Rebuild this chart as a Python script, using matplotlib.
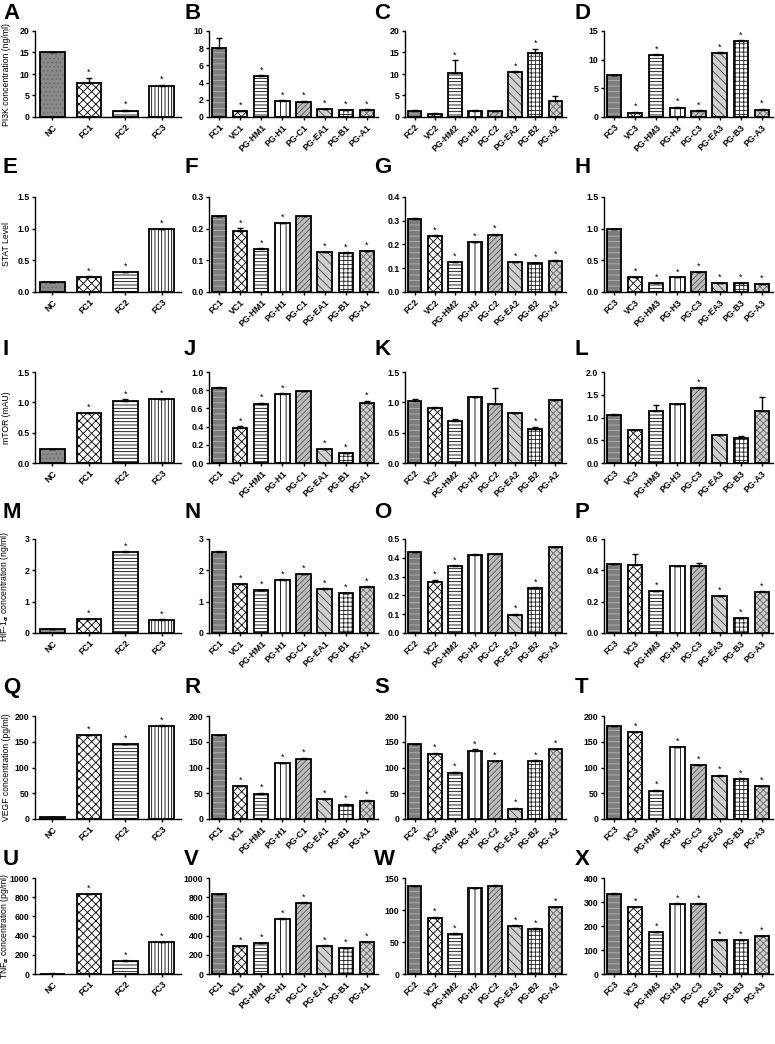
import matplotlib.pyplot as plt

plt.rcParams['font.family'] = ['Liberation Sans', 'DejaVu Sans']
plt.rcParams['font.weight'] = 'bold'
plt.rcParams['hatch.linewidth'] = 0.6

base_labels = ['NC', 'FC1', 'FC2', 'FC3']
grp1_labels = ['FC1', 'VC1', 'PG-HM1', 'PG-H1', 'PG-C1', 'PG-EA1', 'PG-B1', 'PG-A1']
grp2_labels = ['FC2', 'VC2', 'PG-HM2', 'PG-H2', 'PG-C2', 'PG-EA2', 'PG-B2', 'PG-A2']
grp3_labels = ['FC3', 'VC3', 'PG-HM3', 'PG-H3', 'PG-C3', 'PG-EA3', 'PG-B3', 'PG-A3']

# PI3K
pi3k_base = [15.0, 8.0, 1.5, 7.3]
pi3k_base_err = [0.2, 1.1, 0.2, 0.2]
pi3k_base_star = [0, 1, 1, 1]
pi3k_1 = [8.0, 0.7, 4.8, 1.9, 1.8, 0.9, 0.8, 0.85]
pi3k_1_err = [1.2, 0.05, 0.05, 0.05, 0.1, 0.05, 0.05, 0.05]
pi3k_1_star = [0, 1, 1, 1, 1, 1, 1, 1]
pi3k_2 = [1.5, 0.8, 10.2, 1.4, 1.3, 10.5, 14.8, 3.7]
pi3k_2_err = [0.05, 0.1, 3.0, 0.3, 0.1, 0.1, 1.0, 1.2]
pi3k_2_star = [0, 0, 1, 0, 0, 1, 1, 0]
pi3k_3 = [7.3, 0.7, 10.9, 1.6, 1.1, 11.2, 13.2, 1.3]
pi3k_3_err = [0.1, 0.2, 0.05, 0.2, 0.05, 0.1, 0.2, 0.1]
pi3k_3_star = [0, 1, 1, 1, 1, 1, 1, 1]

# STAT
stat_base = [0.15, 0.24, 0.31, 0.99]
stat_base_err = [0.003, 0.005, 0.005, 0.005]
stat_base_star = [0, 1, 1, 1]
stat_1 = [0.240, 0.193, 0.137, 0.217, 0.239, 0.126, 0.124, 0.128]
stat_1_err = [0.001, 0.008, 0.001, 0.001, 0.001, 0.001, 0.001, 0.001]
stat_1_star = [0, 1, 1, 1, 0, 1, 1, 1]
stat_2 = [0.307, 0.236, 0.127, 0.210, 0.242, 0.127, 0.123, 0.132]
stat_2_err = [0.004, 0.002, 0.001, 0.002, 0.002, 0.001, 0.001, 0.002]
stat_2_star = [0, 1, 1, 1, 1, 1, 1, 1]
stat_3 = [0.99, 0.23, 0.14, 0.23, 0.31, 0.14, 0.14, 0.13]
stat_3_err = [0.005, 0.005, 0.003, 0.003, 0.005, 0.003, 0.003, 0.003]
stat_3_star = [0, 1, 1, 1, 1, 1, 1, 1]

# mTOR
mtor_base = [0.23, 0.82, 1.03, 1.05]
mtor_base_err = [0.005, 0.01, 0.02, 0.01]
mtor_base_star = [0, 1, 1, 1]
mtor_1 = [0.82, 0.39, 0.645, 0.76, 0.79, 0.15, 0.11, 0.66]
mtor_1_err = [0.01, 0.015, 0.015, 0.005, 0.005, 0.005, 0.005, 0.02]
mtor_1_star = [0, 1, 1, 1, 0, 1, 1, 1]
mtor_2 = [1.03, 0.91, 0.70, 1.09, 0.98, 0.82, 0.56, 1.04]
mtor_2_err = [0.02, 0.005, 0.03, 0.005, 0.26, 0.005, 0.04, 0.005]
mtor_2_star = [0, 0, 0, 0, 0, 0, 1, 0]
mtor_3 = [1.05, 0.73, 1.14, 1.30, 1.65, 0.61, 0.55, 1.14]
mtor_3_err = [0.02, 0.005, 0.13, 0.005, 0.01, 0.005, 0.05, 0.32]
mtor_3_star = [0, 0, 0, 0, 1, 0, 0, 0]

# HIF-1a
hif_base = [0.12, 0.44, 2.6, 0.43]
hif_base_err = [0.005, 0.005, 0.01, 0.005]
hif_base_star = [0, 1, 1, 1]
hif_1 = [2.6, 1.55, 1.36, 1.70, 1.87, 1.42, 1.27, 1.48]
hif_1_err = [0.01, 0.02, 0.01, 0.01, 0.01, 0.01, 0.01, 0.01]
hif_1_star = [0, 1, 1, 1, 1, 1, 1, 1]
hif_2 = [0.430, 0.273, 0.358, 0.413, 0.420, 0.098, 0.240, 0.455]
hif_2_err = [0.003, 0.008, 0.002, 0.006, 0.002, 0.005, 0.003, 0.004]
hif_2_star = [0, 1, 1, 0, 0, 1, 1, 0]
hif_3 = [0.44, 0.435, 0.268, 0.427, 0.43, 0.235, 0.093, 0.262]
hif_3_err = [0.002, 0.07, 0.002, 0.002, 0.02, 0.003, 0.002, 0.003]
hif_3_star = [0, 0, 1, 0, 0, 1, 1, 1]

# VEGF
vegf_base = [3, 163, 145, 180]
vegf_base_err = [0.5, 1, 1, 2]
vegf_base_star = [0, 1, 1, 1]
vegf_1 = [163, 64, 49, 108, 117, 38, 28, 35]
vegf_1_err = [1, 1, 1, 1, 2, 1, 1, 2]
vegf_1_star = [0, 1, 1, 1, 1, 1, 1, 1]
vegf_2 = [145, 127, 90, 133, 112, 20, 112, 135]
vegf_2_err = [1, 1, 1, 2, 1, 1, 2, 1]
vegf_2_star = [0, 1, 1, 1, 1, 1, 1, 1]
vegf_3 = [180, 168, 55, 139, 104, 83, 78, 64]
vegf_3_err = [1, 1, 1, 1, 1, 3, 1, 1]
vegf_3_star = [0, 1, 1, 1, 1, 1, 1, 1]

# TNF-a
tnf_base = [5, 830, 140, 335]
tnf_base_err = [1, 3, 2, 3]
tnf_base_star = [0, 1, 1, 1]
tnf_1 = [835, 290, 320, 575, 740, 295, 270, 330]
tnf_1_err = [3, 3, 3, 5, 5, 3, 3, 5]
tnf_1_star = [0, 1, 1, 1, 1, 1, 1, 1]
tnf_2 = [137, 88, 63, 134, 138, 75, 71, 104]
tnf_2_err = [0.5, 1, 0.5, 1, 0.5, 1, 0.5, 1]
tnf_2_star = [0, 1, 1, 0, 0, 1, 1, 1]
tnf_3 = [335, 278, 175, 293, 292, 140, 140, 157]
tnf_3_err = [1, 2, 1, 2, 2, 1, 1, 1]
tnf_3_star = [0, 1, 1, 1, 1, 1, 1, 1]

# fill styles: (facecolor, hatch, hatch colour)
base_styles = [('#8a8a8a', '....', '#6a6a6a'), ('white', 'xxxx', 'black'),
               ('white', '-----', 'black'), ('white', '|||||', 'black')]
group_styles = [('#7d7d7d', '---', '#b5b5b5'), ('white', 'xxxx', 'black'),
                ('white', '-----', 'black'), ('white', '|||', 'black'),
                ('#bdbdbd', '//////', '#555555'), ('#d0d0d0', '\\\\\\\\', '#444444'),
                ('white', '++++', '#222222'), ('#cfcfcf', 'xxxxx', '#666666')]

W, H = 775, 1044
fig = plt.figure(figsize=(7.75, 10.44), dpi=100)

col_x = [(35, 181), (209, 378), (405, 566), (604, 773)]
row_y = [(31, 117), (197, 292), (372, 463), (539, 633), (716, 819), (878, 974)]
letter_x = [3, 184, 374, 575]
letter_y = [3, 157, 339, 502, 677, 849]
ylabel_px = 11


def draw(r, c, labels, vals, errs, stars, ymax, step, ylabel=None):
    x0, x1 = col_x[c]
    y0, y1 = row_y[r]
    ax = fig.add_axes([x0 / W, 1 - y1 / H, (x1 - x0) / W, (y1 - y0) / H])
    n = len(labels)
    styles = base_styles if n == 4 else group_styles
    for i in range(n):
        fc, hatch, hc = styles[i]
        ax.bar(i, vals[i], width=0.68, color=fc, hatch=hatch, edgecolor=hc, linewidth=0, zorder=2)
        ax.bar(i, vals[i], width=0.68, fill=False, edgecolor='black', linewidth=1.3, zorder=3)
        ax.errorbar(i, vals[i], yerr=[[0], [errs[i]]], color='black', capsize=2.5,
                    elinewidth=1, capthick=1, zorder=4)
        if stars[i]:
            ax.text(i, vals[i] + errs[i] + ymax * 0.01, '*', ha='center', va='bottom',
                    fontsize=6.5, fontweight='normal')
    ax.set_xlim(-0.48, n - 0.47)
    ax.set_ylim(0, ymax)
    k = int(round(ymax / step))
    ticks = [step * j for j in range(k + 1)]
    ax.set_yticks(ticks)
    if step < 1:
        ax.set_yticklabels(['%.1f' % t for t in ticks])
    else:
        ax.set_yticklabels(['%d' % t for t in ticks])
    ax.set_xticks(range(n))
    ax.set_xticklabels(labels, rotation=45, ha='right', rotation_mode='anchor')
    ax.tick_params(labelsize=6.3, length=2.5, width=1, pad=1.5)
    for s in ['top', 'right']:
        ax.spines[s].set_visible(False)
    for s in ['left', 'bottom']:
        ax.spines[s].set_linewidth(1)
    if ylabel:
        ax.set_ylabel(ylabel, fontsize=6.2)
        ax.yaxis.set_label_coords((ylabel_px - x0) / (x1 - x0), 0.5)
    return ax


draw(0, 0, base_labels, pi3k_base, pi3k_base_err, pi3k_base_star, 20, 5, 'PI3K concentration (ng/ml)')
draw(0, 1, grp1_labels, pi3k_1, pi3k_1_err, pi3k_1_star, 10, 2)
draw(0, 2, grp2_labels, pi3k_2, pi3k_2_err, pi3k_2_star, 20, 5)
draw(0, 3, grp3_labels, pi3k_3, pi3k_3_err, pi3k_3_star, 15, 5)

draw(1, 0, base_labels, stat_base, stat_base_err, stat_base_star, 1.5, 0.5, 'STAT Level')
draw(1, 1, grp1_labels, stat_1, stat_1_err, stat_1_star, 0.3, 0.1)
draw(1, 2, grp2_labels, stat_2, stat_2_err, stat_2_star, 0.4, 0.1)
draw(1, 3, grp3_labels, stat_3, stat_3_err, stat_3_star, 1.5, 0.5)

draw(2, 0, base_labels, mtor_base, mtor_base_err, mtor_base_star, 1.5, 0.5, 'mTOR (mAU)')
draw(2, 1, grp1_labels, mtor_1, mtor_1_err, mtor_1_star, 1.0, 0.2)
draw(2, 2, grp2_labels, mtor_2, mtor_2_err, mtor_2_star, 1.5, 0.5)
draw(2, 3, grp3_labels, mtor_3, mtor_3_err, mtor_3_star, 2.0, 0.5)

draw(3, 0, base_labels, hif_base, hif_base_err, hif_base_star, 3, 1, r'HIF-1$_\alpha$ concentration (ng/ml)')
draw(3, 1, grp1_labels, hif_1, hif_1_err, hif_1_star, 3, 1)
draw(3, 2, grp2_labels, hif_2, hif_2_err, hif_2_star, 0.5, 0.1)
draw(3, 3, grp3_labels, hif_3, hif_3_err, hif_3_star, 0.6, 0.2)

draw(4, 0, base_labels, vegf_base, vegf_base_err, vegf_base_star, 200, 50, 'VEGF concentration (pg/ml)')
draw(4, 1, grp1_labels, vegf_1, vegf_1_err, vegf_1_star, 200, 50)
draw(4, 2, grp2_labels, vegf_2, vegf_2_err, vegf_2_star, 200, 50)
draw(4, 3, grp3_labels, vegf_3, vegf_3_err, vegf_3_star, 200, 50)

draw(5, 0, base_labels, tnf_base, tnf_base_err, tnf_base_star, 1000, 200, r'TNF$_\alpha$ concentration (pg/ml)')
draw(5, 1, grp1_labels, tnf_1, tnf_1_err, tnf_1_star, 1000, 200)
draw(5, 2, grp2_labels, tnf_2, tnf_2_err, tnf_2_star, 150, 50)
draw(5, 3, grp3_labels, tnf_3, tnf_3_err, tnf_3_star, 400, 100)

letters = 'ABCDEFGHIJKLMNOPQRSTUVWX'
for r in range(6):
    for c in range(4):
        fig.text(letter_x[c] / W, 1 - letter_y[r] / H, letters[r * 4 + c],
                 fontsize=16, fontweight='bold', ha='left', va='top')

plt.savefig('out.png', dpi=100)
